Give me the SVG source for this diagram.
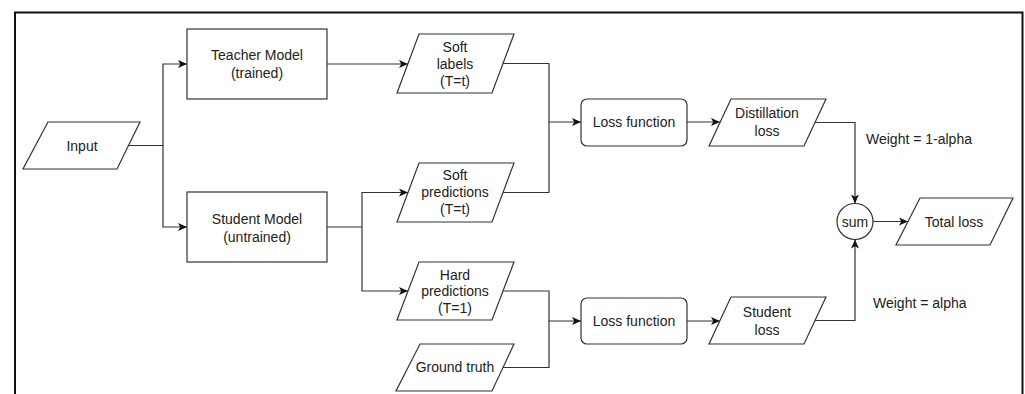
<svg xmlns="http://www.w3.org/2000/svg" width="1025" height="394" viewBox="0 0 1025 394">
  <defs>
    <marker id="arrow" markerUnits="userSpaceOnUse" markerWidth="11" markerHeight="9" refX="9" refY="4" orient="auto">
      <path d="M0,0 L9,4 L0,8 L2.2,4 z" fill="#111"/>
    </marker>
    <style>
      .shape { fill: #fff; stroke: #333; stroke-width: 1.2; }
      .wire { fill: none; stroke: #333; stroke-width: 1.2; }
      .arr { marker-end: url(#arrow); }
      text { font-family: "Liberation Sans", Arial, Helvetica, sans-serif; font-size: 14px; fill: #222; }
      .c { text-anchor: middle; }
    </style>
  </defs>
  <rect width="1025" height="394" fill="#fff"/>

  <!-- outer frame (open at the bottom) -->
  <path d="M15,394 V12.5 H1022.5 V394" fill="none" stroke="#111" stroke-width="2"/>

  <!-- connectors -->
  <g id="connectors">
    <path class="wire arr" d="M128.5,145.5 H163 V64 H187"/>
    <path class="wire arr" d="M163,145.5 V227 H187"/>
    <path class="wire arr" d="M327,64 H408"/>
    <path class="wire arr" d="M327,227 H362 V192.5 H408"/>
    <path class="wire arr" d="M362,227 V291 H408"/>
    <path class="wire arr" d="M503,63.5 H549 V122 H581"/>
    <path class="wire" d="M503,192.5 H549 V122"/>
    <path class="wire arr" d="M503,291 H549 V321 H581"/>
    <path class="wire" d="M503,367.5 H549 V321"/>
    <path class="wire arr" d="M687,122 H720"/>
    <path class="wire arr" d="M687,321 H720"/>
    <path class="wire arr" d="M815,122.5 H855 V203.5"/>
    <path class="wire arr" d="M815,320.5 H855 V239.5"/>
    <path class="wire arr" d="M873,221.5 H908"/>
  </g>

  <g id="input">
    <polygon class="shape" points="48,122 140,122 117,169 23,169"/>
    <text class="c" x="82" y="150.5">Input</text>
  </g>

  <g id="teacher">
    <rect class="shape" x="187" y="29" width="140" height="70"/>
    <text class="c" x="257" y="59.5">Teacher Model</text>
    <text class="c" x="257" y="77.5">(trained)</text>
  </g>

  <g id="student">
    <rect class="shape" x="187" y="192" width="140" height="70"/>
    <text class="c" x="257" y="223.5">Student Model</text>
    <text class="c" x="257" y="241.5">(untrained)</text>
  </g>

  <g id="soft-labels">
    <polygon class="shape" points="419,34 514,34 492,93 397,93"/>
    <text class="c" x="455" y="51.5">Soft</text>
    <text class="c" x="455" y="68.5">labels</text>
    <text class="c" x="455" y="85.5">(T=t)</text>
  </g>

  <g id="soft-predictions">
    <polygon class="shape" points="419,163 514,163 492,222 397,222"/>
    <text class="c" x="455" y="180">Soft</text>
    <text class="c" x="455" y="197">predictions</text>
    <text class="c" x="455" y="214">(T=t)</text>
  </g>

  <g id="hard-predictions">
    <polygon class="shape" points="419,262 514,262 492,320 397,320"/>
    <text class="c" x="455" y="279.5">Hard</text>
    <text class="c" x="455" y="296">predictions</text>
    <text class="c" x="455" y="312.5">(T=1)</text>
  </g>

  <g id="ground-truth">
    <polygon class="shape" points="420,344 514,344 492,391 396,391"/>
    <text class="c" x="455" y="372">Ground truth</text>
  </g>

  <g id="loss-fn-1">
    <rect class="shape" x="581" y="99" width="106" height="47" rx="6"/>
    <text class="c" x="634" y="127">Loss function</text>
  </g>

  <g id="loss-fn-2">
    <rect class="shape" x="581" y="298" width="106" height="46" rx="6"/>
    <text class="c" x="634" y="326">Loss function</text>
  </g>

  <g id="distillation-loss">
    <polygon class="shape" points="731,99 826,99 804,146 709,146"/>
    <text class="c" x="767" y="117.5">Distillation</text>
    <text class="c" x="767" y="135.5">loss</text>
  </g>

  <g id="student-loss">
    <polygon class="shape" points="731,297 826,297 804,344 709,344"/>
    <text class="c" x="767" y="316.5">Student</text>
    <text class="c" x="767" y="334.5">loss</text>
  </g>

  <g id="sum">
    <circle class="shape" cx="855" cy="221.5" r="18"/>
    <text class="c" x="855" y="226.5">sum</text>
  </g>

  <g id="total-loss">
    <polygon class="shape" points="920,198 1013,198 990,245 896,245"/>
    <text class="c" x="954" y="226.5">Total loss</text>
  </g>

  <g id="weights">
    <text x="866" y="144">Weight = 1-alpha</text>
    <text x="873" y="308">Weight = alpha</text>
  </g>
</svg>
